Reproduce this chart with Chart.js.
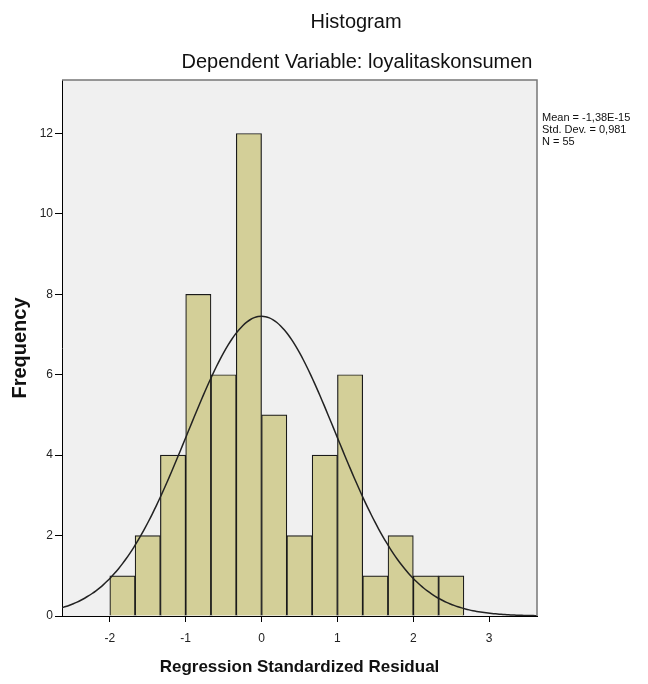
<!DOCTYPE html>
<html>
<head>
<meta charset="utf-8">
<script src="https://cdn.jsdelivr.net/npm/chart.js@4.4.1/dist/chart.umd.min.js"></script>
<style>
  html, body { margin: 0; padding: 0; background: #fff; }
  #wrap { width: 648px; height: 684px; }
</style>
</head>
<body>
<div id="wrap"><canvas id="grafico"></canvas></div>
<script>
// histogram bins (centres of the 1/3-wide bins) and their frequencies
const binCenters = [-1.8333, -1.5, -1.1667, -0.8333, -0.5, -0.1667, 0.1667, 0.5, 0.8333, 1.1667, 1.5, 1.8333, 2.1667, 2.5];
const frequencies = [1, 2, 4, 8, 6, 12, 5, 2, 4, 6, 1, 2, 1, 1];
const binWidth = 1 / 3;

// stats printed next to the chart, used for the fitted normal curve
const mean = -1.38e-15;
const stdDev = 0.981;
const n = 55;
const statLines = ["Mean = -1,38E-15", "Std. Dev. = 0,981", "N = 55"];

const xTicks = [-2, -1, 0, 1, 2, 3];
const yTicks = [0, 2, 4, 6, 8, 10, 12];
const xMin = -2.63, xMax = 3.63;

const titulo = "Histogram";
const subtitulo = "Dependent Variable: loyalitaskonsumen";

// normal curve scaled to counts
let curva = [];
for (let i = 0; i <= 126; i++) {
    let x = xMin + i * (xMax - xMin) / 126;
    let z = (x - mean) / stdDev;
    curva.push({x: x, y: n * binWidth / (stdDev * Math.sqrt(2 * Math.PI)) * Math.exp(-0.5 * z * z)});
}

const fuente = "'Liberation Sans', Arial, sans-serif";

const marco = {
    id: "marco",
    beforeDraw(chart){
        let a = chart.chartArea, ctx = chart.ctx;
        ctx.save();
        ctx.fillStyle = "#f0f0f0";
        ctx.fillRect(a.left, a.top, a.right - a.left, a.bottom - a.top);
        ctx.restore();
    },
    afterDraw(chart){
        let a = chart.chartArea, ctx = chart.ctx;
        ctx.save();
        ctx.strokeStyle = "#777";
        ctx.lineWidth = 1.5;
        ctx.beginPath();
        ctx.moveTo(a.left, a.top);
        ctx.lineTo(a.right, a.top);
        ctx.lineTo(a.right, a.bottom);
        ctx.stroke();

        ctx.fillStyle = "#111";
        ctx.textAlign = "center";
        ctx.textBaseline = "middle";
        ctx.font = "20px " + fuente;
        ctx.fillText(titulo, 356, 22);
        ctx.fillText(subtitulo, 357, 62);

        ctx.textAlign = "left";
        ctx.font = "11px " + fuente;
        statLines.forEach(function(t, i){
            ctx.fillText(t, 542, 118 + i * 12);
        });
        ctx.restore();
    }
};

new Chart(document.getElementById("grafico"), {
    data: {
        datasets: [
            {
                type: "line",
                data: curva,
                borderColor: "#222",
                borderWidth: 1.5,
                pointRadius: 0,
                tension: 0.3,
                order: 0
            },
            {
                type: "bar",
                data: binCenters.map(function(c, i){ return {x: c, y: frequencies[i]}; }),
                backgroundColor: "#d3cf98",
                borderColor: "#1a1a1a",
                borderWidth: 1.2,
                barPercentage: 1,
                categoryPercentage: 1,
                grouped: false,
                order: 1
            }
        ]
    },
    options: {
        responsive: true,
        maintainAspectRatio: false,
        animation: false,
        layout: { padding: { top: 80, right: 111, left: 0, bottom: 0 } },
        plugins: {
            legend: { display: false },
            tooltip: { enabled: false }
        },
        scales: {
            x: {
                type: "linear",
                min: xMin,
                max: xMax,
                offset: false,
                afterBuildTicks: function(scale){ scale.ticks = xTicks.map(function(v){ return {value: v}; }); },
                afterFit: function(scale){ scale.height = 68; },
                grid: { drawOnChartArea: false, offset: false, tickLength: 6, color: "#000" },
                border: { color: "#000", width: 1 },
                ticks: { color: "#222", font: { family: fuente, size: 12 }, padding: 9, maxRotation: 0 },
                title: {
                    display: true,
                    text: "Regression Standardized Residual",
                    color: "#111",
                    font: { family: fuente, size: 17, weight: "bold" },
                    padding: { top: 0, bottom: 6 }
                }
            },
            y: {
                min: 0,
                max: 13.33,
                afterBuildTicks: function(scale){ scale.ticks = yTicks.map(function(v){ return {value: v}; }); },
                afterFit: function(scale){ scale.width = 62; },
                grid: { drawOnChartArea: false, tickLength: 7, color: "#000" },
                border: { color: "#000", width: 1 },
                ticks: { color: "#222", font: { family: fuente, size: 12 }, padding: 2 },
                title: {
                    display: true,
                    text: "Frequency",
                    color: "#111",
                    font: { family: fuente, size: 20, weight: "bold" },
                    padding: { top: 8, bottom: 0 }
                }
            }
        }
    },
    plugins: [marco]
});
</script>
</body>
</html>
